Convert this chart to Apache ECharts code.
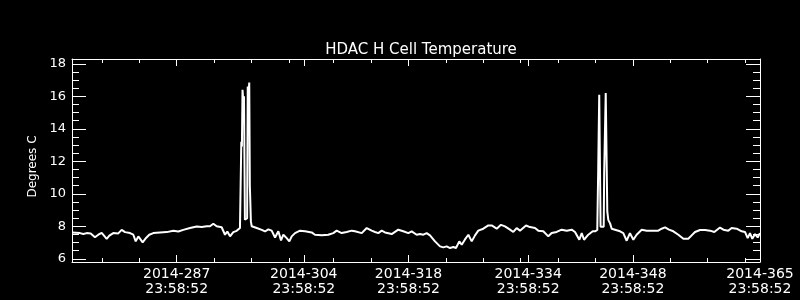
<!DOCTYPE html>
<html>
<head>
<meta charset="utf-8">
<script src="https://cdn.jsdelivr.net/npm/echarts@6/dist/echarts.min.js"></script>
<style>
html,body{margin:0;padding:0;background:#000;}
#chart{width:800px;height:300px;}
</style>
</head>
<body>
<div id="chart"></div>
<script>
// Time is expressed as fractional day-of-year 2014 (23:58:52 = DOY + 0.99921)
const TOD = 0.99921;
const xMin = 273 + TOD;   // 2014-273 23:58:52
const xMax = 365 + TOD;   // 2014-365 23:58:52

const majorDays = [287, 304, 318, 334, 348, 365];
const minorDays = [277, 282, 292, 297, 302, 308, 313, 323, 328, 333, 338, 343, 353, 358, 363];
const xTickLabels = ['2014-287\n23:58:52', '2014-304\n23:58:52', '2014-318\n23:58:52',
                     '2014-334\n23:58:52', '2014-348\n23:58:52', '2014-365\n23:58:52'];

const yMajor = [6, 8, 10, 12, 14, 16, 18];
const yMinor = [6.5, 7, 7.5, 8.5, 9, 9.5, 10.5, 11, 11.5, 12.5, 13, 13.5, 14.5, 15, 15.5, 16.5, 17, 17.5];

const times = [
  274.00, 274.09, 275.07, 275.51, 275.96, 276.50, 277.07, 277.52, 277.97, 278.19,
  278.64, 278.99, 279.52, 280.19, 280.64, 281.09, 281.76, 282.20, 282.52, 282.87,
  283.09, 283.45, 283.90, 284.33, 284.87, 285.77, 286.66, 287.55, 288.22, 288.88,
  289.78, 290.67, 291.34, 292.01, 292.45, 292.90, 293.34, 294.01, 294.46, 294.77,
  295.13, 295.57, 296.02, 296.46, 296.58, 296.64, 296.72, 296.80, 296.92, 297.00,
  297.12, 297.30, 297.42, 297.50, 297.62, 297.70, 297.78, 297.82, 297.92, 298.03,
  298.70, 299.37, 299.81, 300.25, 300.70, 301.15, 301.59, 301.95, 302.26, 302.71,
  303.06, 303.38, 303.82, 304.49, 305.16, 306.05, 306.49, 307.39, 308.27, 308.94,
  309.39, 310.06, 310.73, 311.40, 311.84, 312.74, 313.41, 314.07, 314.52, 314.96,
  315.41, 315.85, 316.75, 317.63, 318.30, 318.97, 319.42, 320.09, 320.53, 320.98,
  321.43, 321.87, 322.54, 323.21, 323.65, 324.10, 324.55, 324.99, 325.35, 325.79,
  326.11, 326.55, 327.00, 327.45, 327.89, 328.33, 329.00, 329.67, 330.12, 330.79,
  331.36, 331.90, 332.57, 333.01, 333.46, 333.90, 334.71, 335.24, 335.91, 336.35,
  337.02, 337.69, 338.14, 338.81, 339.48, 340.15, 340.82, 341.26, 341.84, 342.16,
  342.47, 343.04, 343.63, 343.94, 344.24, 344.36, 344.37, 344.48, 344.50, 344.64,
  344.68, 345.10, 345.16, 345.33, 345.37, 345.54, 345.58, 345.72, 345.95, 346.17,
  346.61, 347.28, 347.72, 348.17, 348.61, 349.06, 349.50, 350.18, 350.85, 351.52,
  352.40, 352.85, 353.30, 353.83, 354.41, 355.08, 355.75, 356.41, 356.86, 357.31,
  357.98, 358.65, 359.32, 359.89, 360.65, 361.10, 361.76, 362.21, 362.88, 363.55,
  363.99, 364.35, 364.66, 364.97, 365.33, 365.69, 365.99
];
const temps = [
  7.62, 7.62, 7.58, 7.52, 7.58, 7.55, 7.32, 7.48, 7.60, 7.64,
  7.23, 7.42, 7.58, 7.56, 7.78, 7.64, 7.58, 7.48, 7.07, 7.38,
  7.28, 7.01, 7.28, 7.48, 7.58, 7.62, 7.64, 7.72, 7.68, 7.78,
  7.89, 7.99, 7.95, 8.00, 8.00, 8.16, 8.00, 7.94, 7.48, 7.68,
  7.38, 7.64, 7.72, 7.90, 7.97, 13.2, 12.9, 16.4, 15.6, 16.0,
  8.40, 8.30, 8.50, 16.6, 16.2, 16.85, 10.5, 9.90, 8.30, 8.00,
  7.89, 7.78, 7.68, 7.81, 7.73, 7.31, 7.69, 7.13, 7.48, 7.27,
  7.07, 7.38, 7.58, 7.73, 7.69, 7.62, 7.48, 7.44, 7.48, 7.58,
  7.73, 7.58, 7.65, 7.73, 7.69, 7.58, 7.89, 7.73, 7.65, 7.58,
  7.73, 7.62, 7.52, 7.79, 7.69, 7.58, 7.69, 7.48, 7.52, 7.48,
  7.58, 7.44, 7.07, 6.76, 6.70, 6.76, 6.66, 6.72, 6.66, 7.07,
  6.86, 7.19, 7.48, 7.07, 7.44, 7.73, 7.85, 8.05, 8.05, 7.85,
  8.09, 7.99, 7.79, 7.65, 7.89, 7.73, 8.05, 7.95, 7.89, 7.73,
  7.69, 7.38, 7.58, 7.65, 7.79, 7.73, 7.79, 7.65, 7.17, 7.58,
  7.17, 7.48, 7.69, 7.69, 7.77, 7.80, 11.67, 11.67, 16.1, 16.1,
  7.97, 7.97, 11.26, 11.26, 16.2, 16.2, 8.90, 8.38, 8.18, 7.85,
  7.79, 7.69, 7.58, 7.11, 7.58, 7.17, 7.48, 7.79, 7.73, 7.73,
  7.73, 7.85, 7.93, 7.79, 7.69, 7.48, 7.23, 7.23, 7.44, 7.65,
  7.77, 7.77, 7.73, 7.65, 7.92, 7.79, 7.73, 7.89, 7.85, 7.69,
  7.65, 7.27, 7.58, 7.23, 7.52, 7.31, 7.58
];

const FONT = 'DejaVu Sans';
const WHITE = '#ffffff';
const majorX = majorDays.map(d => d + TOD);
const minorX = minorDays.map(d => d + TOD);

function xAxisDef(pos, ticks, len, showLine, showLabel) {
  return {
    type: 'value', position: pos, min: xMin, max: xMax, gridIndex: 0,
    axisLine: { show: showLine, lineStyle: { color: WHITE, width: 1 } },
    axisTick: { show: true, inside: true, length: len, customValues: ticks,
                lineStyle: { color: WHITE, width: 1 } },
    axisLabel: showLabel ? {
      show: true, customValues: ticks, color: WHITE, fontFamily: FONT, fontSize: 14,
      lineHeight: 15, margin: 5,
      formatter: function (v) {
        let i = majorX.findIndex(m => Math.abs(m - v) < 1e-3);
        return i >= 0 ? xTickLabels[i] : '';
      }
    } : { show: false },
    splitLine: { show: false }
  };
}
function yAxisDef(pos, ticks, len, showLine, showLabel, withName) {
  const ax = {
    type: 'value', position: pos, min: 5.8, max: 18.3, gridIndex: 0,
    axisLine: { show: showLine, lineStyle: { color: WHITE, width: 1 } },
    axisTick: { show: true, inside: true, length: len, customValues: ticks,
                lineStyle: { color: WHITE, width: 1 } },
    axisLabel: showLabel ? {
      show: true, customValues: ticks, color: WHITE, fontFamily: FONT, fontSize: 13, margin: 6
    } : { show: false },
    splitLine: { show: false }
  };
  if (withName) {
    ax.name = 'Degrees C';
    ax.nameLocation = 'middle';
    ax.nameGap = 30;
    ax.nameTextStyle = { color: WHITE, fontFamily: FONT, fontSize: 12, padding: [0, 12, 0, 0] };
  }
  return ax;
}

const chart = echarts.init(document.getElementById('chart'), null, { renderer: 'canvas' });
chart.setOption({
  backgroundColor: '#000000',
  animation: false,
  title: {
    text: 'HDAC H Cell Temperature',
    left: 416, top: 38, textAlign: 'center',
    textStyle: { color: WHITE, fontFamily: FONT, fontSize: 15, fontWeight: 'normal' }
  },
  grid: { left: 72, right: 40, top: 59, bottom: 38, containLabel: false, outerBoundsMode: 'none' },
  xAxis: [
    xAxisDef('bottom', majorX, 7, true, true),
    xAxisDef('bottom', minorX, 4, false, false),
    xAxisDef('top', majorX, 7, true, false),
    xAxisDef('top', minorX, 4, false, false)
  ],
  yAxis: [
    yAxisDef('left', yMajor, 14, true, true, true),
    yAxisDef('left', yMinor, 7, false, false, false),
    yAxisDef('right', yMajor, 14, true, false, false),
    yAxisDef('right', yMinor, 7, false, false, false)
  ],
  series: [{
    type: 'line',
    xAxisIndex: 0, yAxisIndex: 0,
    data: times.map((t, i) => [t, temps[i]]),
    showSymbol: false,
    lineStyle: { color: WHITE, width: 2 },
    silent: true
  }]
});
</script>
</body>
</html>
